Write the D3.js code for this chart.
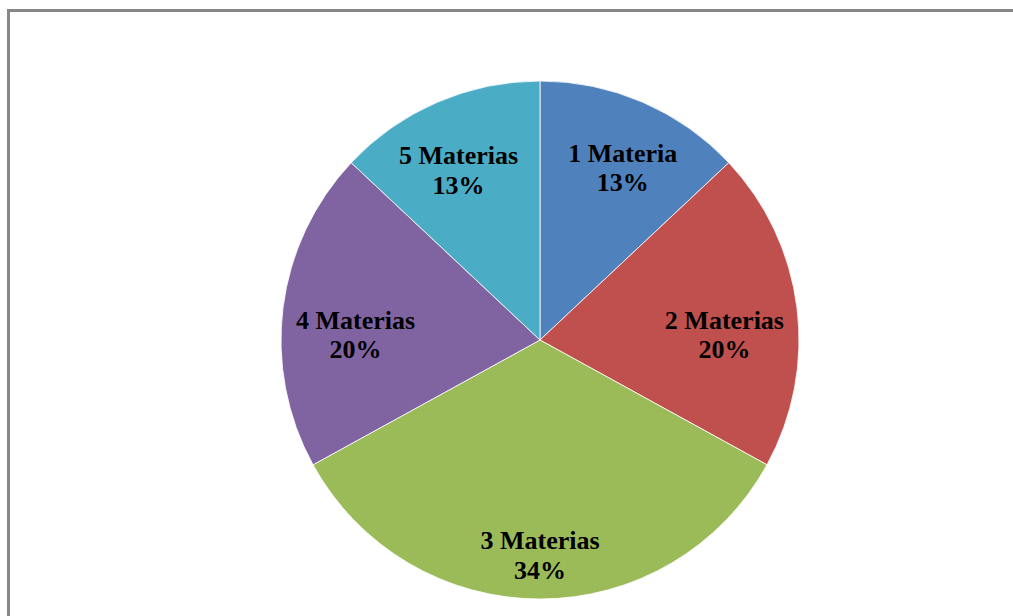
<!DOCTYPE html>
<html>
<head>
<meta charset="utf-8">
<script src="https://cdn.jsdelivr.net/npm/d3@7"></script>
<style>
  html, body { margin: 0; padding: 0; background: #fff; }
  svg { display: block; }
</style>
</head>
<body>
<svg id="chart" width="1013" height="616"></svg>
<script>
// Distribución de alumnos por número de materias
const categories = ["1 Materia", "2 Materias", "3 Materias", "4 Materias", "5 Materias"];
const percents = [13, 20, 34, 20, 13];
const colors = ["#4F81BD", "#C0504D", "#9BBB59", "#8064A2", "#4BACC6"];

const width = 1013, height = 616;
const cx = 540, cy = 340, radius = 259;

const svg = d3.select("#chart");

// chart area frame (only its top and left edges fall inside the view)
svg.append("rect")
  .attr("x", 8.5).attr("y", 10.5)
  .attr("width", 1020).attr("height", 620)
  .attr("fill", "#fff")
  .attr("stroke", "#878787")
  .attr("stroke-width", 3);

const data = categories.map((c, i) => ({ name: c, value: percents[i], color: colors[i] }));

const pie = d3.pie().value(d => d.value).sort(null);
const arcs = pie(data);
const arc = d3.arc().innerRadius(0).outerRadius(radius);

const g = svg.append("g").attr("transform", `translate(${cx},${cy})`);

g.selectAll("path.slice")
  .data(arcs)
  .join("path")
  .attr("class", "slice")
  .attr("d", arc)
  .attr("fill", d => d.data.color)
  .attr("stroke", "#ffffff")
  .attr("stroke-width", 0.8);

// two-line labels, pushed outward until the text block nears the rim
const fontSize = 26, lineH = 29.5;
const labels = g.selectAll("g.lbl")
  .data(arcs)
  .join("g")
  .attr("class", "lbl");

labels.append("text")
  .attr("text-anchor", "middle")
  .attr("font-family", "'Liberation Serif', 'Times New Roman', serif")
  .attr("font-weight", "bold")
  .attr("font-size", fontSize)
  .attr("fill", "#000")
  .each(function(d) {
    const t = d3.select(this);
    t.append("tspan").attr("x", 0).attr("y", 0).text(d.data.name);
    t.append("tspan").attr("x", 0).attr("y", lineH).text(d.data.value + "%");
  });

labels.each(function(d) {
  const grp = d3.select(this);
  const spans = grp.selectAll("tspan").nodes();
  const w = d3.max(spans, s => s.getComputedTextLength());
  // visible ink block: cap top of first line to baseline of second
  const top = -0.68 * fontSize, bottom = lineH + 0.03 * fontSize;
  const hw = w / 2, hh = (bottom - top) / 2, oy = (top + bottom) / 2;
  const mid = (d.startAngle + d.endAngle) / 2;
  const ang = mid + 0.10 * Math.sin(mid);
  const ux = Math.sin(ang), uy = -Math.cos(ang);
  // labels in the upper half sit a little deeper inside the slice
  const rimGap = 12 + 8 * Math.max(0, Math.cos(mid));
  let best = 0;
  for (let r = 0; r < radius; r += 0.5) {
    const px = ux * r, py = uy * r;
    const far = d3.max([[-hw, -hh], [hw, -hh], [-hw, hh], [hw, hh]],
      c => Math.hypot(px + c[0], py + c[1]));
    if (far <= radius - rimGap) best = r; else break;
  }
  grp.attr("transform", `translate(${ux * best},${uy * best - oy})`);
});
</script>
</body>
</html>
